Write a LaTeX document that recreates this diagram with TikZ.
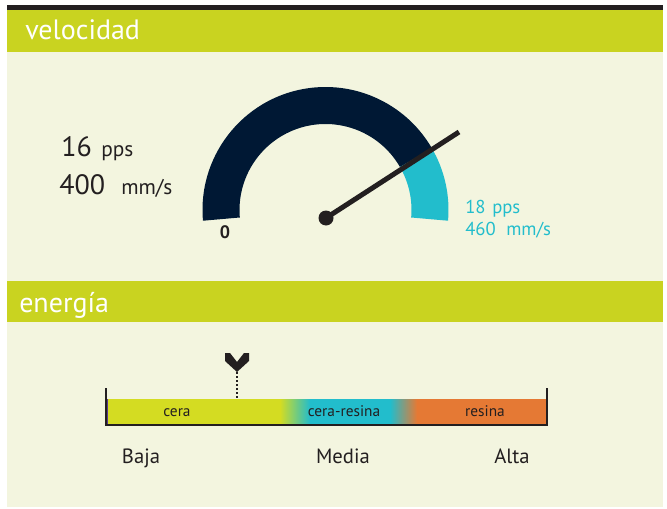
\documentclass[tikz,border=0pt]{standalone}
\usepackage{fontspec}
\setmainfont{PT Sans}
\usetikzlibrary{calc}
\definecolor{cream}{HTML}{F3F5DF}
\definecolor{hgreen}{HTML}{C9D320}
\definecolor{darkc}{HTML}{231F20}
\definecolor{navy}{HTML}{001834}
\definecolor{cyanc}{HTML}{22BDCC}
\definecolor{barY}{HTML}{D4DC22}
\definecolor{orangec}{HTML}{E57934}
\definecolor{purp}{HTML}{5B3A8C}
\begin{document}
\begin{tikzpicture}[x=0.75pt,y=0.75pt,
  htext/.style={text=white,inner sep=0pt,anchor=base west,font=\fontsize{21}{24}\selectfont},
  bigtxt/.style={text=darkc,inner sep=0pt,anchor=base west,font=\fontsize{21}{24}\selectfont},
  unittxt/.style={text=darkc,inner sep=0pt,anchor=base west,font=\fontsize{16}{18}\selectfont},
  cyantxt/.style={text=cyanc,inner sep=0pt,anchor=base west,font=\fontsize{14}{16}\selectfont},
  bartxt/.style={text=darkc,inner sep=0pt,anchor=base,font=\fontsize{11.5}{13}\selectfont},
  lvltxt/.style={text=darkc,inner sep=0pt,anchor=base,font=\fontsize{15.5}{18}\selectfont}]
\useasboundingbox (0,0) rectangle (667,508);
\fill[white] (0,0) rectangle (667,508);
% panel
\fill[cream] (7,1) rectangle (663,456);
\fill[darkc] (7,498) rectangle (663,503);
\fill[hgreen] (7,456) rectangle (663,498);
\fill[hgreen] (7,186) rectangle (663,227);
\node[htext] (h1) at (25,468) {velocidad};
\node[htext] (h2) at (19,196) {energía};
% gauge
\coordinate (C) at (325.5,298);
\fill[navy] ($(C)+(185:123)$) arc[start angle=185,end angle=30,radius=123]
  -- ($(C)+(30:86)$) arc[start angle=30,end angle=185,radius=86] -- cycle;
\fill[cyanc] ($(C)+(30:123)$) arc[start angle=30,end angle=-5,radius=123]
  -- ($(C)+(-5:86)$) arc[start angle=-5,end angle=30,radius=86] -- cycle;
\coordinate (P) at (326,290);
\coordinate (N) at (459,376);
\draw[darkc,line width=3.75pt] (P) -- (N);
\fill[darkc] (P) circle[radius=7.5];
\node[text=darkc,inner sep=0pt,anchor=base,font=\bfseries\fontsize{13.5}{15}\selectfont] (zero) at (225,270) {0};
% left values
\node[bigtxt] (v16) at (61,352) {16};
\node[unittxt] (pps1) at (101,352) {pps};
\node[bigtxt] (v400) at (59,314) {400};
\node[unittxt] (mms1) at (121,314) {mm/s};
% right values
\node[cyantxt] (v18) at (465,295) {18};
\node[cyantxt] (pps2) at (492,295) {pps};
\node[cyantxt] (v460) at (465,273) {460};
\node[cyantxt] (mms2) at (506,273) {mm/s};
% energy bar
\fill[barY] (106,84) rectangle (280,109);
\shade[left color=barY,right color=cyanc] (280,84) rectangle (310,109);
\fill[cyanc] (310,84) rectangle (390,109);
\shade[left color=cyanc,right color=orangec] (390,84) rectangle (417,109);
\fill[orangec] (417,84) rectangle (546,109);
\fill[purp] (106,84) rectangle (107.5,109);
\draw[darkc,line width=1.5pt] (105.5,120) -- (105.5,83) -- (546.5,83) -- (546.5,120);
\node[bartxt] (cera) at (177,92) {cera};
\node[bartxt] (cr) at (344,92) {cera-resina};
\node[bartxt] (res) at (485,92) {resina};
% marker
\fill[darkc] (225,155) -- (230,155) -- (237,146) -- (244,155) -- (249,155) -- (249,147) -- (237,136) -- (225,147) -- cycle;
\coordinate (mk) at (237,136);
\coordinate (mb) at (237,109);
\draw[darkc,line width=1.6pt,dash pattern=on 1.4pt off 1.6pt] (mk) -- (mb);
% levels
\node[lvltxt] (baja) at (141,45) {Baja};
\node[lvltxt] (media) at (343,45) {Media};
\node[lvltxt] (alta) at (512,45) {Alta};
\end{tikzpicture}
\end{document}
